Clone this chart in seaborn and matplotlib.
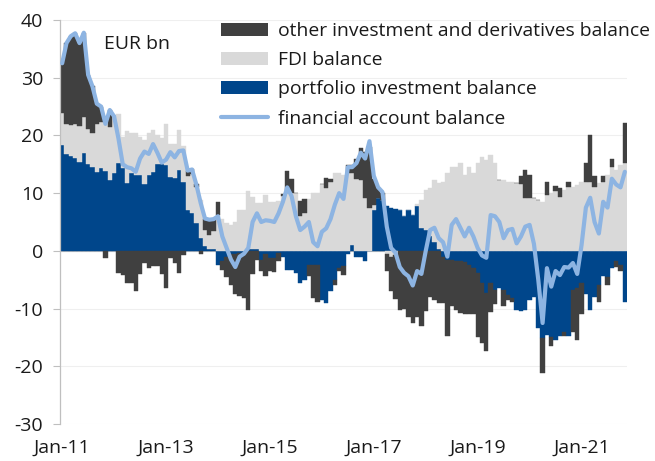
import numpy as np
import pandas as pd
import matplotlib
matplotlib.use("Agg")
import matplotlib.pyplot as plt
import seaborn as sns
from matplotlib.patches import Patch
from matplotlib.lines import Line2D

# ---------------- data (EUR bn, monthly Jan-2011 .. Nov-2021) ----------------
months = pd.date_range("2011-01-01", periods=131, freq="MS")

portfolio = [18.3, 16.8, 16.5, 16.1, 15.4, 16.9, 15.1, 14.6, 13.7, 14.3, 13.9, 12.3,
             13.5, 15.3, 14.3, 11.7, 13.5, 13.1, 13.2, 11.6, 13.1, 13.6, 15.1, 15.1,
             14.8, 12.8, 12.6, 14.0, 12.0, 7.1, 6.5, 4.8, 2.2, 0.8, 0.3, 0.3,
             -2.4, -1.8, -1.0, -0.5, -0.5, -0.3, -0.3, 0.5, 0.4, 0.3, -1.5, -0.5,
             -1.2, -1.2, -0.3, -1.0, -3.3, -3.3, -3.9, -5.6, -5.0, -2.4, -2.4, -2.4,
             -8.5, -9.1, -7.0, -5.0, -3.0, -2.7, -0.5, 1.0, -1.0, -1.0, -1.8, 0.0,
             7.1, 9.1, 8.8, 7.7, 7.4, 7.3, 7.1, 6.0, 7.1, 6.2, 7.7, 3.9,
             3.6, 2.5, 1.6, 0.3, -1.0, -1.5, -1.5, -1.8, -1.8, -2.0, -2.5, -3.0,
             -3.9, -5.5, -7.3, -5.6, -6.8, -6.5, -6.8, -7.6, -8.2, -10.2, -10.5, -10.3,
             -8.5, -8.0, -13.4, -15.1, -14.5, -15.0, -15.4, -14.8, -14.0, -14.8, -6.8, -6.5,
             -5.6, -7.5, -10.2, -8.0, -6.0, -4.4, -4.5, -3.0, -1.8, -2.5, -8.8]

fdi = [5.6, 5.2, 5.3, 5.9, 6.3, 6.3, 6.1, 5.8, 8.3, 8.1, 9.4, 9.2,
       9.8, 8.4, 5.5, 9.0, 6.9, 7.4, 6.6, 7.6, 7.3, 7.4, 4.9, 4.4,
       7.2, 5.8, 5.9, 7.0, 6.1, 5.9, 6.8, 6.2, 6.6, 2.8, 2.4, 3.2,
       6.2, 5.5, 4.8, 4.5, 5.0, 7.0, 7.1, 9.8, 9.0, 8.0, 8.3, 9.7,
       8.5, 8.5, 8.6, 9.5, 10.0, 10.0, 10.0, 6.0, 6.5, 9.0, 10.0, 10.0,
       11.5, 10.9, 12.0, 13.5, 13.5, 13.2, 13.5, 12.5, 12.5, 12.3, 9.1, 7.5,
       0.8, 0.0, 0.0, -0.5, -1.0, -0.8, 0.0, 0.0, 0.0, 0.0, 0.5, 4.9,
       7.0, 8.4, 10.7, 11.5, 12.0, 13.5, 14.6, 14.6, 15.2, 13.2, 14.5, 13.5,
       15.2, 16.3, 15.8, 16.6, 15.2, 12.3, 12.3, 12.0, 12.0, 11.7, 11.5, 9.1,
       9.1, 9.1, 8.8, 8.5, 9.7, 10.0, 10.3, 9.4, 10.6, 11.0, 11.1, 11.4,
       12.0, 12.0, 12.0, 11.0, 11.7, 12.0, 13.2, 14.6, 14.0, 14.9, 15.2]

other = [8.6, 14.0, 15.4, 15.7, 14.3, 14.6, 9.3, 8.1, 3.5, 2.6, -1.3, 2.9,
         0.0, -3.8, -4.2, -5.5, -5.6, -6.9, -4.0, -2.1, -3.0, -2.6, -2.6, -4.0,
         -6.5, -1.3, -2.1, -3.9, -0.7, 0.9, 0.8, 0.5, -0.5, 2.0, 2.7, 2.0,
         2.2, -1.5, -3.5, -5.5, -7.0, -7.6, -7.8, -10.3, -4.0, -1.5, -2.0, -3.9,
         -2.3, -2.4, -1.5, 0.3, 3.9, 2.5, 0.0, 2.6, 2.5, -2.0, -5.8, -6.4,
         0.0, 1.7, 0.5, -1.0, -0.5, -1.5, 1.4, 1.4, 3.5, 5.5, 8.1, 10.5,
         4.5, 1.8, 1.3, -3.0, -6.0, -7.5, -10.2, -10.0, -11.5, -12.5, -11.5, -13.0,
         -10.5, -8.0, -8.5, -9.0, -8.0, -13.2, -8.0, -8.5, -9.0, -9.0, -8.5, -8.0,
         -11.0, -10.5, -10.1, -5.0, -2.4, 0.0, -2.8, -0.9, -0.6, 0.0, 1.5, 4.9,
         4.0, 0.0, 0.0, -6.1, 2.3, -1.5, 1.0, 1.5, -0.8, 1.0, -7.2, -8.9,
         -5.3, 3.2, 8.1, 2.0, -2.8, 0.9, -1.5, 1.3, -1.0, -1.0, 6.9]

financial = [32.5, 36.0, 37.2, 37.7, 36.0, 37.8, 30.5, 28.5, 25.5, 25.0, 22.0, 24.4,
             23.3, 19.5, 15.0, 14.5, 14.3, 13.7, 16.0, 17.2, 16.8, 18.5, 17.0, 15.3,
             15.8, 17.1, 16.2, 17.3, 17.4, 13.9, 14.1, 11.5, 8.3, 5.6, 5.4, 5.5,
             6.0, 2.5, 0.5, -1.5, -2.8, -1.0, -0.5, 0.5, 5.0, 6.5, 5.0, 5.3,
             5.2, 5.0, 6.5, 8.5, 11.0, 9.5, 6.0, 3.6, 4.2, 5.0, 1.5, 0.8,
             3.3, 3.9, 5.5, 8.0, 10.0, 9.0, 14.5, 14.5, 15.2, 17.0, 16.0, 19.0,
             13.0, 11.0, 10.2, 4.2, 0.5, -0.3, -2.8, -3.8, -4.4, -6.0, -3.5, -4.0,
             0.0, 3.6, 4.0, 2.2, 1.5, -1.0, 4.5, 5.5, 4.0, 2.5, 4.0, 2.5,
             0.5, -0.8, -1.2, 6.2, 6.0, 5.0, 2.2, 3.6, 3.8, 1.3, 2.5, 4.2,
             4.5, 1.2, -5.0, -12.5, -3.0, -6.2, -3.5, -4.2, -2.8, -2.9, -2.1, -4.0,
             1.0, 7.5, 9.2, 5.0, 3.0, 8.5, 7.5, 12.5, 11.5, 11.0, 13.7]

series_names = ["other investment and derivatives balance", "FDI balance",
                "portfolio investment balance", "financial account balance"]
tick_years = [2011, 2013, 2015, 2017, 2019, 2021]
tick_labels = ["Jan-11", "Jan-13", "Jan-15", "Jan-17", "Jan-19", "Jan-21"]

# ---------------- style ----------------
sns.set_theme(style="white")
plt.rcParams["font.family"] = ["Open Sans", "DejaVu Sans"]

C_DARK = "#404040"
C_LIGHT = "#d9d9d9"
C_BLUE = "#00468b"
C_LINE = "#8db4e2"
C_AXIS = "#bfbfbf"
C_TEXT = "#1a1a1a"
FS = 14.0
FS_LEG = 13.9

fig = plt.figure(figsize=(6.55, 4.61), dpi=100)
ax = fig.add_axes([60 / 655, 37 / 461, 567 / 655, 404 / 461])

x = np.arange(len(months))
pos = np.zeros(len(x))
neg = np.zeros(len(x))
for vals, col in [(portfolio, C_BLUE), (fdi, C_LIGHT), (other, C_DARK)]:
    v = np.asarray(vals, dtype=float)
    bottom = np.where(v >= 0, pos, neg)
    ax.bar(x, v, bottom=bottom, width=1.0, color=col, edgecolor=col,
           linewidth=0.3, align="center", zorder=2)
    pos = pos + np.where(v > 0, v, 0)
    neg = neg + np.where(v < 0, v, 0)

sns.lineplot(x=x, y=financial, ax=ax, color=C_LINE, linewidth=3, zorder=5)

ax.axhline(0, color=C_AXIS, lw=0.8, zorder=1.5)

ax.set_xlim(-0.5, len(x) - 0.5)
ax.set_ylim(-30, 40)
ax.set_yticks(range(-30, 41, 10))
ax.set_yticklabels([str(t) for t in range(-30, 41, 10)])
tick_pos = [int(np.where((months.year == y) & (months.month == 1))[0][0]) for y in tick_years]
ax.set_xticks(tick_pos)
ax.set_xticklabels(tick_labels)

ax.yaxis.grid(True, color="#efefef", lw=0.8, zorder=0)
ax.xaxis.grid(False)
ax.set_axisbelow(True)
for s in ["top", "right", "bottom"]:
    ax.spines[s].set_visible(False)
ax.spines["left"].set_color(C_AXIS)
ax.spines["left"].set_linewidth(0.9)
ax.tick_params(axis="y", which="both", left=True, length=5, width=0.8, color=C_AXIS,
               labelsize=FS, labelcolor=C_TEXT, pad=7)
ax.tick_params(axis="x", which="both", bottom=False, length=0, labelsize=FS,
               labelcolor=C_TEXT, pad=11)
ax.set_xlabel("")
ax.set_ylabel("")

fig.text(104 / 655, 1 - 44 / 461, "EUR bn", ha="left", va="center", fontsize=FS, color=C_TEXT)

handles = [Patch(facecolor=C_DARK, edgecolor="none"),
           Patch(facecolor=C_LIGHT, edgecolor="none"),
           Patch(facecolor=C_BLUE, edgecolor="none"),
           Line2D([], [], color=C_LINE, lw=3)]
fig.legend(handles, series_names, loc="upper left",
           bbox_to_anchor=(221 / 655, 1 - 22 / 461), frameon=False, fontsize=FS_LEG,
           handlelength=2.45, handleheight=0.68, handletextpad=0.5,
           labelspacing=0.58, borderpad=0, borderaxespad=0, labelcolor=C_TEXT)

fig.savefig("out.png", dpi=100)
